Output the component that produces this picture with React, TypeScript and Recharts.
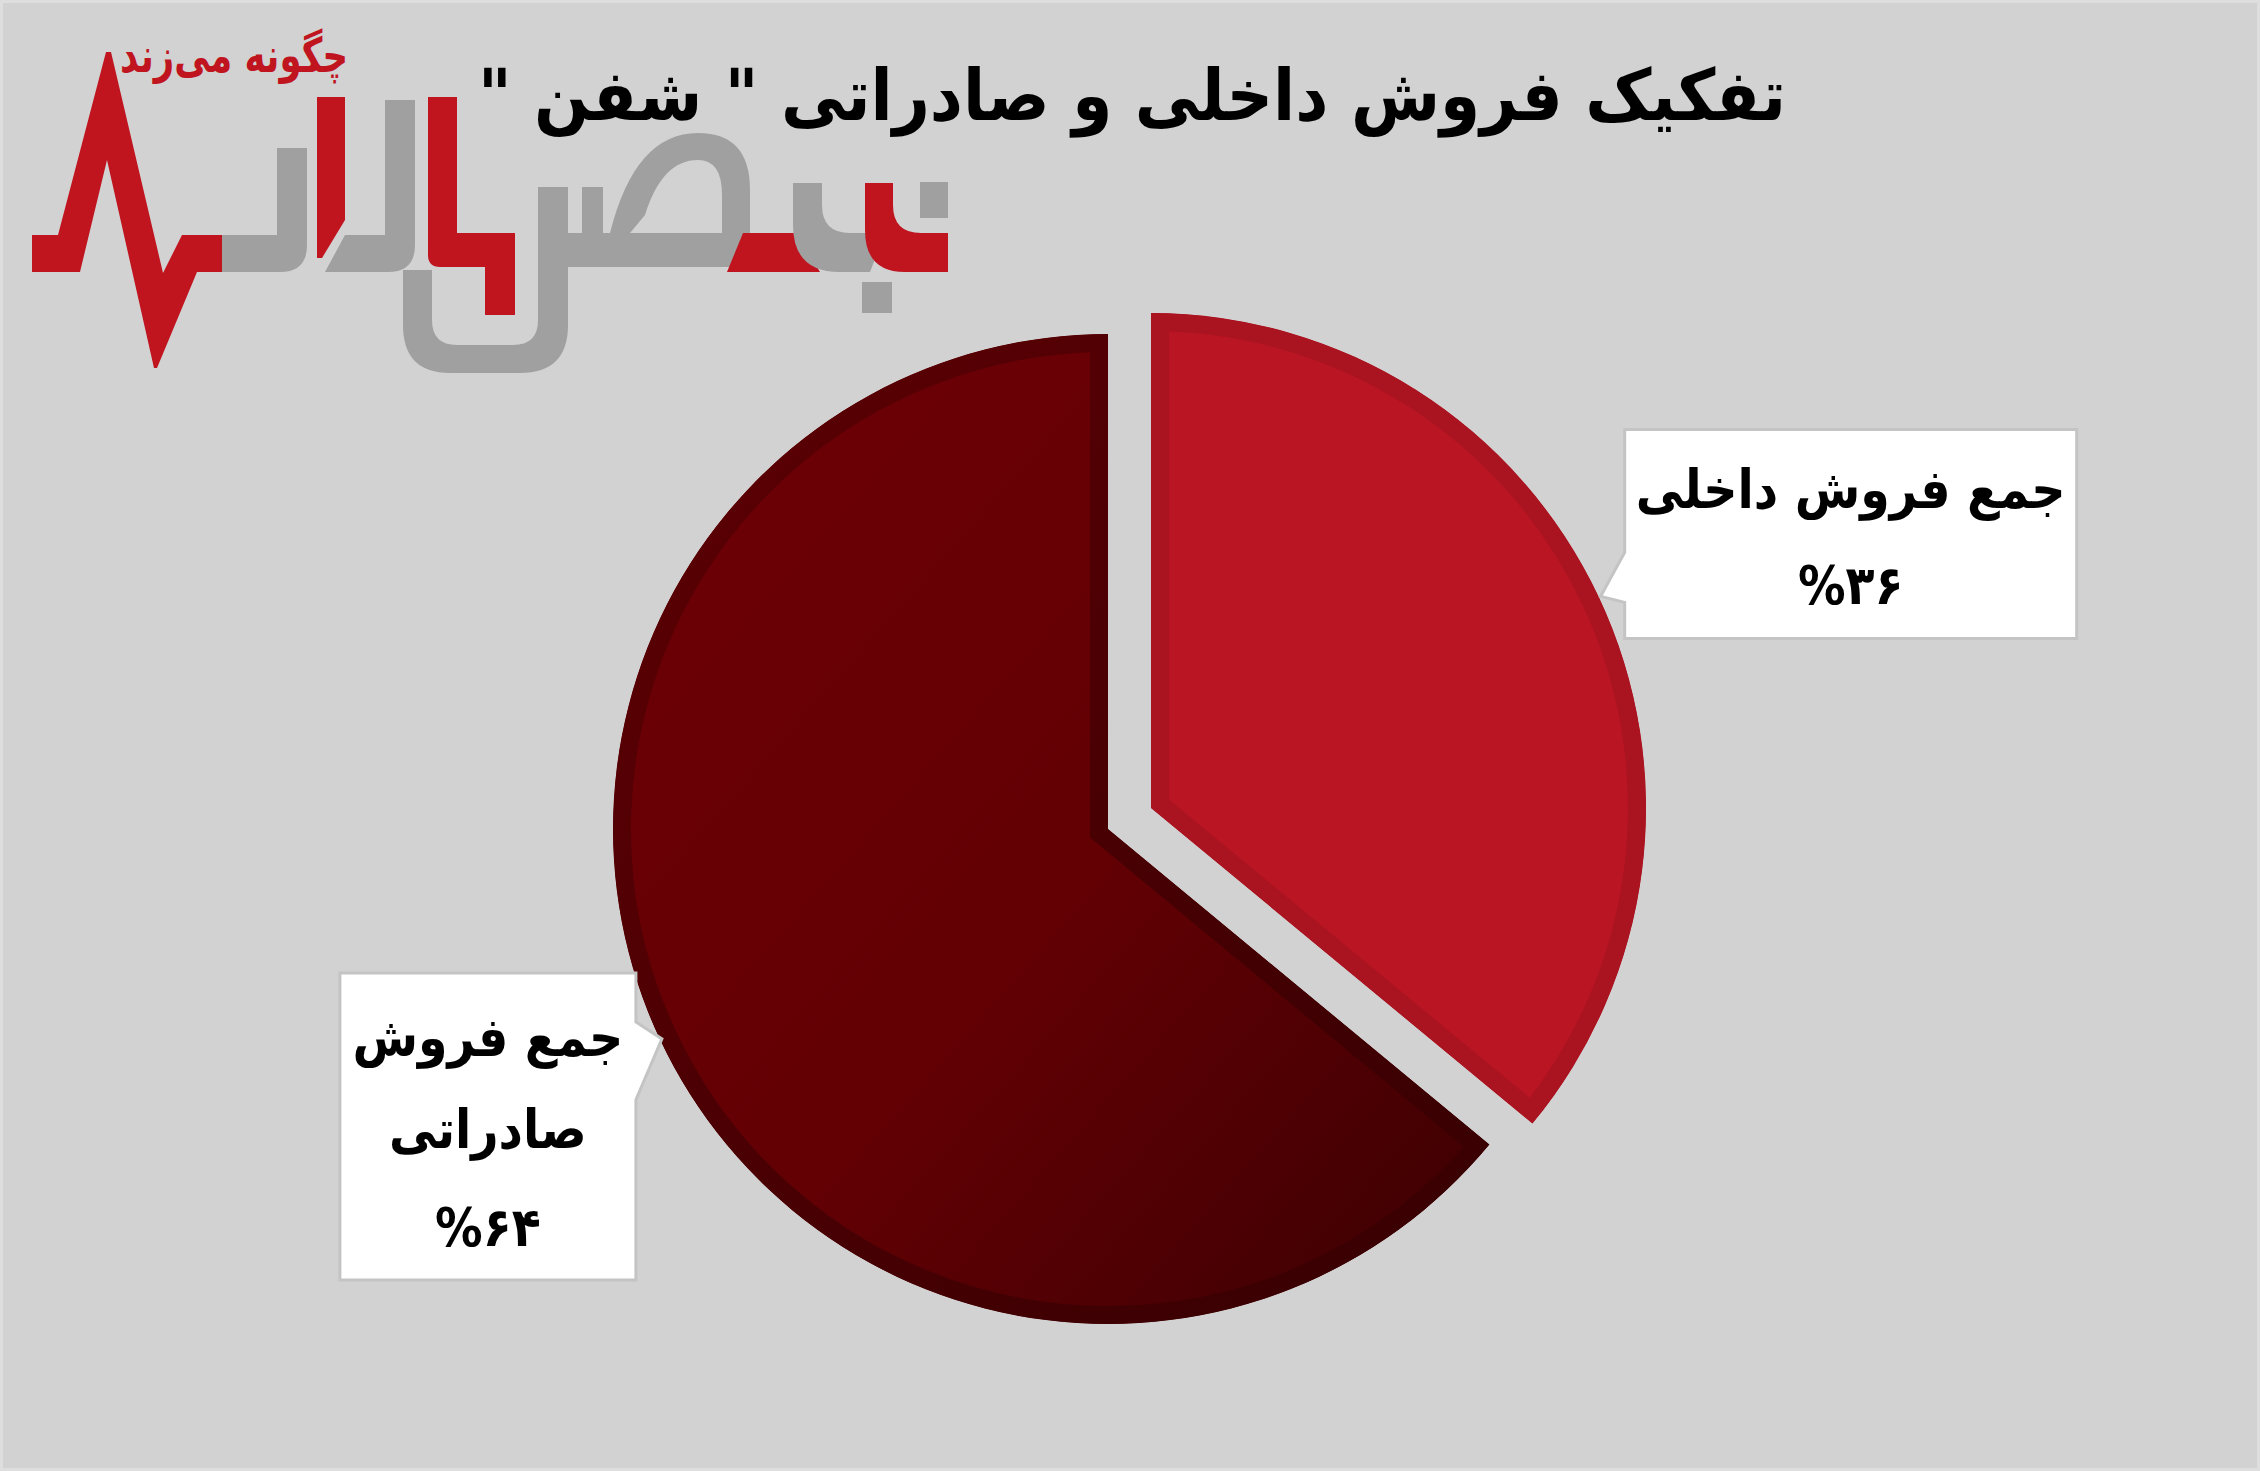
import React from "react";
import { PieChart, Pie, Cell } from "recharts";

// data
const categories = ["جمع فروش داخلی", "جمع فروش صادراتی"];
const shares = [36, 64];
const labelLines = [["جمع فروش داخلی"], ["جمع فروش", "صادراتی"]];
const title = 'تفکیک فروش داخلی و صادراتی " شفن "';
const tagline = "چگونه می‌زند";

const data = categories.map((name, i) => ({ name, value: shares[i] }));

const W = 2260;
const H = 1471;
const RADIAN = Math.PI / 180;
const FONT = '"DejaVu Sans", "Noto Sans", sans-serif';
const RED = "#c0141f";
const GRAY = "#a0a0a0";
const R = 495;

const toFa = (n: number) => String(n).replace(/\d/g, (d) => "۰۱۲۳۴۵۶۷۸۹"[+d]);

// squeeze text horizontally around x (the original font is narrower)
const squeeze = (x: number, k: number) => `translate(${x},0) scale(${k},1) translate(${-x},0)`;

// callout boxes, relative to the tip that sits on the slice edge
const callouts = [
  { side: "right", reach: 2, left: 24, width: 452, top: -167, height: 209, b1: -44, b2: 6, lines: [-88, 8] },
  { side: "left", reach: -2, left: -322, width: 296, top: -66, height: 307, b1: -17, b2: 61, lines: [17, 109, 207] },
];

const makeLabel = (showIndex: number) => (props: any) => {
  const { cx, cy, midAngle, outerRadius, index, value } = props;
  if (index !== showIndex) return null;
  const c = callouts[index];
  const r = outerRadius + c.reach;
  const tx = cx + r * Math.cos(-midAngle * RADIAN);
  const ty = cy + r * Math.sin(-midAngle * RADIAN);
  const l = tx + c.left;
  const rt = l + c.width;
  const t = ty + c.top;
  const b = t + c.height;
  const d =
    c.side === "right"
      ? `M${l},${t} L${rt},${t} L${rt},${b} L${l},${b} L${l},${ty + c.b2} L${tx},${ty} L${l},${ty + c.b1} Z`
      : `M${l},${t} L${rt},${t} L${rt},${ty + c.b1} L${tx},${ty} L${rt},${ty + c.b2} L${rt},${b} L${l},${b} Z`;
  const lines = [...labelLines[index], "%" + toFa(value)];
  const mx = (l + rt) / 2;
  return (
    <g>
      <path d={d} fill="#ffffff" stroke="#c4c4c4" strokeWidth={3} />
      {lines.map((s, i) => (
        <text
          key={i}
          x={mx}
          y={ty + c.lines[i]}
          transform={squeeze(mx, 0.88)}
          textAnchor="middle"
          direction="rtl"
          fontFamily={FONT}
          fontWeight="bold"
          fontSize={54}
          fill="#000"
        >
          {s}
        </text>
      ))}
    </g>
  );
};

const Logo = () => (
  <g>
    <text
      x={234}
      y={72}
      transform={squeeze(234, 0.74)}
      textAnchor="middle"
      direction="rtl"
      fontFamily={FONT}
      fontWeight="bold"
      fontSize={48}
      fill={RED}
    >
      {tagline}
    </text>
    <polygon
      fill={RED}
      points="32,235 58,235 106,52 111,52 163,273 182,235 222,235 222,272 197,272 157,368 154,368 107,160 80,272 32,272"
    />
    <path fill={GRAY} d="M222,235 H277 V148 H307 V245 Q307,272 280,272 H222 Z" />
    <polygon fill={RED} points="317,97 345,97 345,220 322,258 317,258" />
    <path fill={GRAY} d="M385,100 H415 V245 Q415,272 388,272 H325 L345,235 H385 Z" />
    <path fill={RED} d="M428,97 H457 V233 H515 V315 H485 V267 H440 Q428,267 428,255 Z" />
    <path
      fill={GRAY}
      d="M403,270 H432 V320 Q432,345 457,345 H513 Q538,345 538,320 V187 H568 V325 Q568,373 520,373 H450 Q403,373 403,325 Z"
    />
    <path
      fill={GRAY}
      fillRule="evenodd"
      d="M540,233 H610 Q635,133 698,133 Q750,133 750,190 V267 H540 Z M630,233 H722 V195 Q722,160 698,160 Q662,160 645,215 Z"
    />
    <rect x={582} y={187} width={21} height={50} fill={GRAY} />
    <polygon fill={RED} points="743,233 797,233 820,272 727,272" />
    <path fill={GRAY} d="M793,183 H822 V205 Q822,233 850,233 H885 L870,272 H840 Q793,272 793,225 Z" />
    <rect x={862} y={282} width={30} height={31} fill={GRAY} />
    <path fill={RED} d="M865,183 H893 V205 Q893,233 921,233 H948 V272 H905 Q865,272 865,230 Z" />
    <rect x={920} y={182} width={28} height={36} fill={GRAY} />
  </g>
);

export default function App() {
  return (
    <div
      style={{
        position: "fixed",
        left: 0,
        top: 0,
        width: W,
        height: H,
        background: "#d2d2d2",
        boxSizing: "border-box",
        border: "3px solid #dedede",
      }}
    >
      <svg width={W} height={H} style={{ position: "absolute", left: -3, top: -3 }}>
        <Logo />
        <text
          x={1132}
          y={120}
          transform={squeeze(1132, 0.91)}
          textAnchor="middle"
          direction="rtl"
          fontFamily={FONT}
          fontWeight="bold"
          fontSize={71}
          fill="#000"
        >
          {title}
        </text>
      </svg>
      <div style={{ position: "absolute", left: -3, top: -3 }}>
        <PieChart width={W} height={H} margin={{ top: 0, right: 0, bottom: 0, left: 0 }}>
          <defs>
            <linearGradient id="darkFill" x1="0" y1="0" x2="1" y2="1">
              <stop offset="0" stopColor="#6e0006" />
              <stop offset="0.55" stopColor="#620004" />
              <stop offset="1" stopColor="#3a0002" />
            </linearGradient>
            <linearGradient id="darkRim" x1="0" y1="0" x2="1" y2="1">
              <stop offset="0" stopColor="#5e0004" />
              <stop offset="1" stopColor="#360002" />
            </linearGradient>
            <clipPath id="clipDark">
              <use href="#sectorDark" />
            </clipPath>
            <clipPath id="clipRed">
              <use href="#sectorRed" />
            </clipPath>
          </defs>
          {/* outline-only pies: their sectors are the clip shapes for the inner rims */}
          <Pie data={data} dataKey="value" cx={1108} cy={829} outerRadius={R} startAngle={90} endAngle={-270} isAnimationActive={false}>
            <Cell fill="none" stroke="none" />
            <Cell id="sectorDark" fill="none" stroke="none" />
          </Pie>
          <Pie data={data} dataKey="value" cx={1151} cy={808} outerRadius={R} startAngle={90} endAngle={-270} isAnimationActive={false}>
            <Cell id="sectorRed" fill="none" stroke="none" />
            <Cell fill="none" stroke="none" />
          </Pie>
          <Pie
            data={data}
            dataKey="value"
            nameKey="name"
            cx={1108}
            cy={829}
            outerRadius={R}
            startAngle={90}
            endAngle={-270}
            isAnimationActive={false}
            labelLine={false}
            label={makeLabel(1)}
          >
            <Cell fill="none" stroke="none" />
            <Cell fill="url(#darkFill)" stroke="url(#darkRim)" strokeWidth={36} clipPath="url(#clipDark)" />
          </Pie>
          <Pie
            data={data}
            dataKey="value"
            nameKey="name"
            cx={1151}
            cy={808}
            outerRadius={R}
            startAngle={90}
            endAngle={-270}
            isAnimationActive={false}
            labelLine={false}
            label={makeLabel(0)}
          >
            <Cell fill="#b91522" stroke="#aa1320" strokeWidth={36} clipPath="url(#clipRed)" />
            <Cell fill="none" stroke="none" />
          </Pie>
        </PieChart>
      </div>
    </div>
  );
}
